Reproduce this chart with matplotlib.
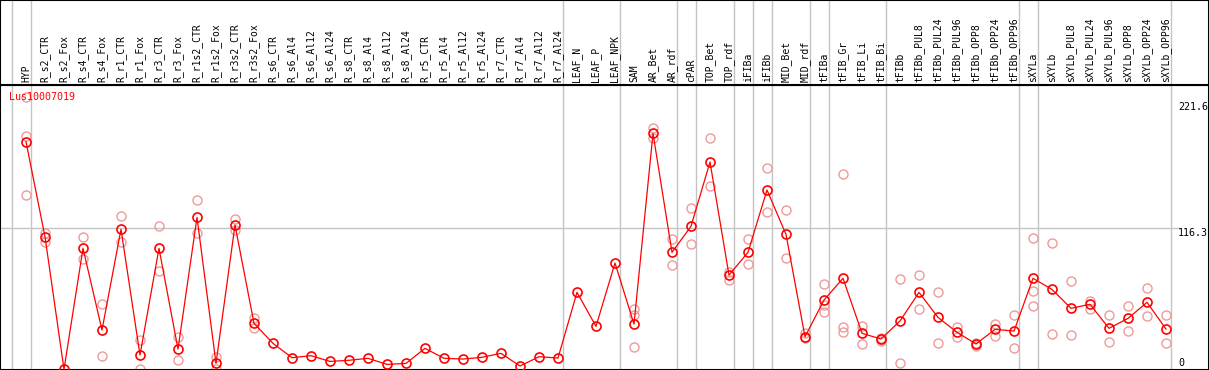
import numpy as np
import matplotlib
matplotlib.use("Agg")
import matplotlib.pyplot as plt

nan = np.nan

gene = "Lus10007019"

samples = ["HYP", "R_s2_CTR", "R_s2_Fox", "R_s4_CTR", "R_s4_Fox", "R_r1_CTR", "R_r1_Fox",
           "R_r3_CTR", "R_r3_Fox", "R_r1s2_CTR", "R_r1s2_Fox", "R_r3s2_CTR", "R_r3s2_Fox",
           "R_s6_CTR", "R_s6_Al4", "R_s6_Al12", "R_s6_Al24", "R_s8_CTR", "R_s8_Al4",
           "R_s8_Al12", "R_s8_Al24", "R_r5_CTR", "R_r5_Al4", "R_r5_Al12", "R_r5_Al24",
           "R_r7_CTR", "R_r7_Al4", "R_r7_Al12", "R_r7_Al24", "LEAF_N", "LEAF_P", "LEAF_NPK",
           "SAM", "AR_Bet", "AR_rdf", "cPAR", "TOP_Bet", "TOP_rdf", "iFIBa", "iFIBb",
           "MID_Bet", "MID_rdf", "tFIBa", "tFIB_Gr", "tFIB_Li", "tFIB_Bi", "tFIBb",
           "tFIBb_PUL8", "tFIBb_PUL24", "tFIBb_PUL96", "tFIBb_OPP8", "tFIBb_OPP24",
           "tFIBb_OPP96", "sXYLa", "sXYLb", "sXYLb_PUL8", "sXYLb_PUL24", "sXYLb_PUL96",
           "sXYLb_OPP8", "sXYLb_OPP24", "sXYLb_OPP96"]

mean_vals = [185.7, 109.3, 2.7, 100.0, 34.3, 115.3, 14.2, 100.0, 19.0, 124.9, 7.5, 118.7, 39.7,
             23.6, 12.1, 13.7, 9.1, 10.0, 11.6, 6.7, 7.5, 19.6, 11.6, 11.0, 12.4,
             15.6, 5.4, 12.9, 11.8, 64.6, 37.3, 88.2,
             39.1, 192.4, 96.8, 117.7, 169.4, 78.5, 96.8, 146.9,
             111.2, 28.9, 58.4, 75.9, 31.7, 27.1, 41.6,
             64.6, 44.5, 32.5, 23.1, 34.9, 33.5,
             75.9, 67.0, 51.8, 55.0, 35.7, 43.7, 56.6, 35.1]

rep_a = [221.6, 112.0, nan, 108.8, 55.0, 126.0, 26.3, 118.0, 28.5, 138.8, 12.9, 123.5, 43.7,
         nan, nan, nan, nan, nan, nan, nan, nan, nan, nan, nan, nan,
         nan, nan, nan, nan, nan, nan, nan,
         51.2, 197.0, 107.5, 132.2, 188.4, 81.2, 107.5, 164.3,
         130.8, 31.7, 71.1, 159.7, 37.8, 27.7, 75.1,
         78.3, 64.6, 36.5, 23.6, 39.1, 46.1,
         108.0, 104.0, 73.7, 57.9, 46.1, 53.4, 67.8, 46.1]

rep_b = [190.3, 105.3, nan, 91.2, 13.4, 104.8, 2.7, 81.8, 10.2, 112.5, 2.7, 114.7, 35.7,
         nan, nan, nan, nan, nan, nan, nan, nan, nan, nan, nan, nan,
         nan, nan, nan, nan, nan, nan, nan,
         46.4, 188.4, 86.3, 103.2, 150.1, 74.5, 87.1, 128.9,
         92.0, 27.7, 54.4, 36.5, 22.8, 25.4, 7.5,
         51.2, 23.6, 28.9, 21.7, 29.7, 19.6,
         65.4, 30.9, 30.1, 51.5, 24.4, 33.5, 45.3, 23.6]

rep_c = [142.6, nan, nan, nan, nan, nan, nan, nan, nan, nan, nan, nan, nan,
         nan, nan, nan, nan, nan, nan, nan, nan, nan, nan, nan, nan,
         nan, nan, nan, nan, nan, nan, nan,
         20.7, nan, nan, nan, nan, nan, nan, nan,
         nan, nan, 49.0, 32.5, nan, nan, nan,
         nan, nan, nan, nan, nan, nan,
         53.4, nan, nan, nan, nan, nan, nan, nan]

# last sample index of each group (vertical separators)
group_ends = [-1, 0, 28, 31, 34, 35, 37, 38, 39, 41, 42, 45, 52, 53, 60]

W, H = 1209, 370
fig = plt.figure(figsize=(W / 100, H / 100), dpi=100)
top_h = 85
ax = fig.add_axes([0, 0, 1, (H - top_h) / H])
axl = fig.add_axes([0, (H - top_h) / H, 1, top_h / H])

x = np.arange(len(samples))
grey = "#c4c4c4"
font = "DejaVu Sans Mono"

for a in (ax, axl):
    a.set_xlim(-26 / 19, (W - 26) / 19)
    for g in group_ends:
        a.axvline(g + 0.24, color=grey, lw=1.0, zorder=0)
    a.set_xticks([])
    a.set_yticks([])
    for s in a.spines.values():
        s.set_color("black")
        s.set_linewidth(1.5)

ax.set_ylim(2.2, 231.3)
axl.set_ylim(0, 1)

ax.axhline(116.3, xmax=1180 / W, color=grey, lw=1.0, zorder=0)

for r in (rep_a, rep_b, rep_c):
    ax.plot(x, r, "o", ls="none", ms=6.5, mfc="none", mec="#ee9a9a", mew=1.0, zorder=2)

ax.plot(x, mean_vals, "-", color="red", lw=0.9, zorder=3)
ax.plot(x, mean_vals, "o", ls="none", ms=6.5, mfc="none", mec="red", mew=1.2, zorder=4)

ax.text(9 / W, (H - 97) / (H - top_h), gene, transform=ax.transAxes, color="red",
        fontsize=7.2, family=font, va="center", ha="left")

for lab, yp in [("221.6", 107), ("116.3", 232.5), ("0", 362.5)]:
    ax.text(1178 / W, (H - yp) / (H - top_h), lab, transform=ax.transAxes, color="black",
            fontsize=7.2, family=font, va="center", ha="left")

for i, s in enumerate(samples):
    axl.text(i, 0.03, s, rotation=90, ha="center", va="bottom", fontsize=7.0, family=font)

fig.savefig("out.png", dpi=100)
